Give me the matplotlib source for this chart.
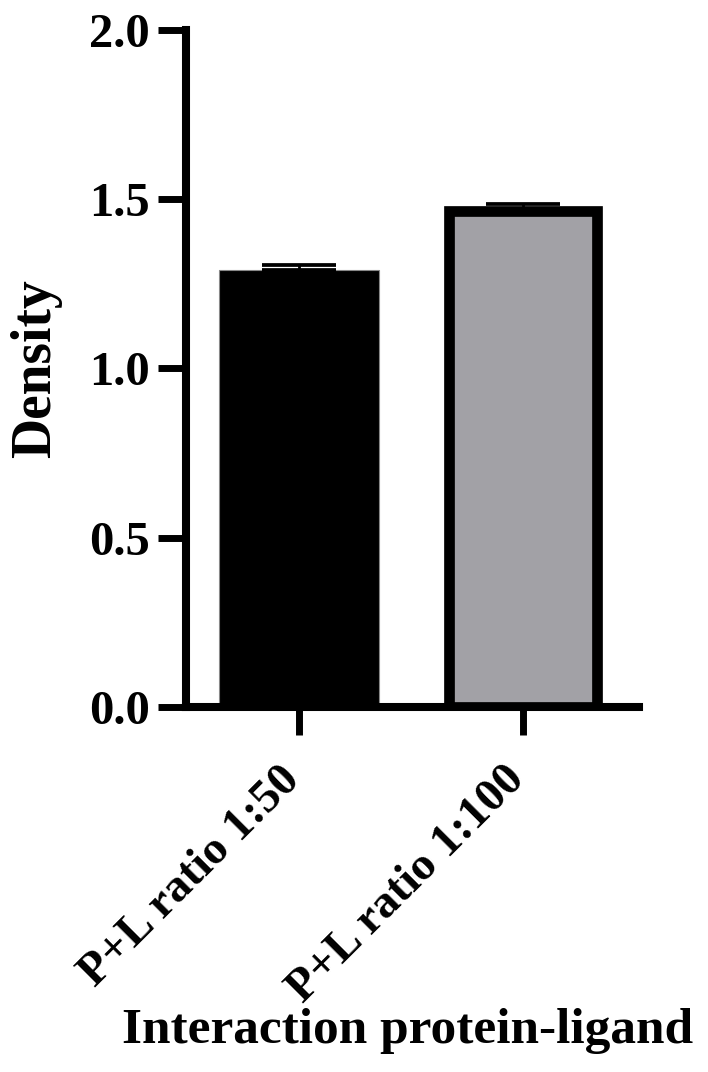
import matplotlib
matplotlib.use("Agg")
import matplotlib.pyplot as plt

categories = ["P+L ratio 1:50", "P+L ratio 1:100"]
values = [1.29, 1.465]
errors = [0.014, 0.02]
yticks = [0.0, 0.5, 1.0, 1.5, 2.0]

plt.rcParams['font.family'] = ['Liberation Serif', 'DejaVu Serif']
plt.rcParams['font.weight'] = 'bold'

fig = plt.figure(figsize=(7.08, 10.72), dpi=100)
ax = fig.add_axes([0.2623, 0.3408, 0.9025 - 0.2623, 0.972 - 0.3408])

x = list(range(len(categories)))
ax.bar(x[0], values[0], width=0.714, color='black', edgecolor='#888888', linewidth=0.8, zorder=2)
ax.bar(x[1], values[1], width=0.665, color='#a2a1a6', edgecolor='black', linewidth=7.7, zorder=2)
ax.errorbar(x, values, yerr=[[0, 0], errors], fmt='none', ecolor='black',
            elinewidth=2.0, capsize=26.6, capthick=2.7, zorder=3)

ax.set_xlim(-0.506, 1.518)
ax.set_ylim(0, 2.0)
ax.set_yticks(yticks)
ax.set_yticklabels([f"{v:.1f}" for v in yticks], fontsize=35, fontweight='bold')
ax.set_xticks(x)
ax.set_xticklabels([])
for xi, cat in zip(x, categories):
    ax.annotate(cat, xy=(xi, 0), xycoords=('data', 'axes fraction'),
                xytext=(-14.4, -37.5), textcoords='offset points',
                ha='right', va='top', rotation=45, rotation_mode='anchor',
                fontsize=34, fontweight='bold', annotation_clip=False)

for s in ['top', 'right']:
    ax.spines[s].set_visible(False)
for s in ['left', 'bottom']:
    ax.spines[s].set_linewidth(5.8)
ax.tick_params(axis='both', length=20, width=5, pad=6, color='black')

ax.set_ylabel("Density", fontsize=40, fontweight='bold', labelpad=19)
ax.set_xlabel("Interaction protein-ligand", fontsize=37, fontweight='bold')
ax.xaxis.set_label_coords(0.49, -0.445)

fig.savefig("out.png", dpi=100)
